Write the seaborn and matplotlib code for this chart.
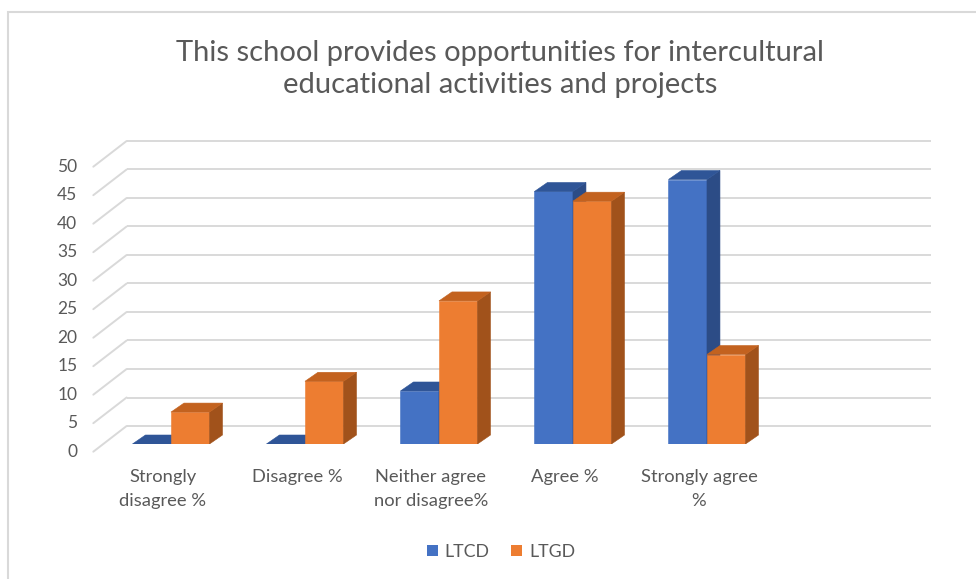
import matplotlib
matplotlib.use("Agg")
import matplotlib.pyplot as plt
from matplotlib.patches import Polygon, Rectangle, Patch
import pandas as pd
import seaborn as sns

# ---- data ----
categories = ["Strongly\ndisagree %", "Disagree %", "Neither agree\nnor disagree%",
              "Agree %", "Strongly agree\n%"]
series = ["LTCD", "LTGD"]
ltcd = [0.0, 0.0, 9.3, 44.3, 46.4]
ltgd = [5.6, 11.0, 25.1, 42.6, 15.7]
y_ticks = [0, 5, 10, 15, 20, 25, 30, 35, 40, 45, 50]
title = "This school provides opportunities for intercultural\neducational activities and projects"

# ---- style ----
FONT = ["Lato", "DejaVu Sans"]
TEXT = "#595959"
GRID = "#D9D9D9"
FRONT = {"LTCD": "#4472C4", "LTGD": "#ED7D31"}
TOP = {"LTCD": "#2F5597", "LTGD": "#C3621F"}
SIDE = {"LTCD": "#2C4C86", "LTGD": "#A1521B"}

sns.set_theme(style="white")
plt.rcParams["font.family"] = FONT

W, H, DPI = 976, 579, 100
fig = plt.figure(figsize=(W / DPI, H / DPI), dpi=DPI)
fig.patch.set_facecolor("white")

# chart-area border
fig.add_artist(Rectangle((8 / W, -0.1), 1.2, 1 - 12 / H + 0.1, transform=fig.transFigure,
                         fill=False, edgecolor="#D9D9D9", linewidth=1.5))

# plot plane (where the bar fronts stand)
left_px, right_px = 103.3, 907.7
zero_px, px_per_unit = 444.0, 5.7
ymax = 52
top_px = zero_px - px_per_unit * ymax
ax = fig.add_axes([left_px / W, 1 - zero_px / H, (right_px - left_px) / W,
                   (zero_px - top_px) / H])

df = pd.DataFrame({
    "category": categories * 2,
    "series": [series[0]] * len(categories) + [series[1]] * len(categories),
    "value": ltcd + ltgd,
})
sns.barplot(data=df, x="category", y="value", hue="series", hue_order=series,
            palette=[FRONT[s] for s in series], saturation=1, width=0.575,
            linewidth=0, legend=False, ax=ax)

ax.set_xlim(-0.505, 5.498)
ax.set_ylim(0, ymax)
ax.set_axis_off()

# pixel -> data conversions
ppx = (right_px - left_px) / (5.498 + 0.505)
ppy = px_per_unit
x_left = -0.505

# back-wall gridlines with their slanted floor-side connectors
back_dx, back_dy = 23.3, 18.0
front_dx, front_dy = -10.0, -7.7
for v in y_ticks:
    ax.plot([x_left + back_dx / ppx, 5.498 + back_dx / ppx],
            [v + back_dy / ppy, v + back_dy / ppy],
            color=GRID, lw=1.4, zorder=0, clip_on=False, solid_capstyle="butt")
    ax.plot([x_left + front_dx / ppx, x_left + back_dx / ppx],
            [v + front_dy / ppy, v + back_dy / ppy],
            color=GRID, lw=1.4, zorder=0, clip_on=False)
    ax.text(x_left + (front_dx - 16) / ppx, v + front_dy / ppy, str(v),
            ha="right", va="center", fontsize=12.5, color=TEXT)

# 3-D tops and sides of the bars
ddx, ddy = 13 / ppx, 9 / ppy
for k, (name, container) in enumerate(zip(series, ax.containers)):
    for bar in container:
        x0, w, h = bar.get_x(), bar.get_width(), bar.get_height()
        x1 = x0 + w
        z = 3 + 2 * k
        bar.set_zorder(z)
        bar.set_edgecolor(FRONT[name])
        bar.set_linewidth(0.4)
        top = Polygon([(x0, h), (x1, h), (x1 + ddx, h + ddy), (x0 + ddx, h + ddy)],
                      closed=True, facecolor=TOP[name], edgecolor=TOP[name],
                      linewidth=0.4, zorder=z + 0.5)
        side = Polygon([(x1, 0), (x1, h), (x1 + ddx, h + ddy), (x1 + ddx, ddy)],
                       closed=True, facecolor=SIDE[name], edgecolor=SIDE[name],
                       linewidth=0.4, zorder=z + 0.4)
        ax.add_patch(side)
        ax.add_patch(top)

# category labels
for i, cat in enumerate(categories):
    ax.text(i - 8 / ppx, -(469 - zero_px) / ppy, cat, ha="center", va="top",
            fontsize=13.2, color=TEXT, linespacing=1.6, multialignment="center")

# title
fig.text(500 / W, 1 - 69 / H, title, ha="center", va="center", fontsize=21,
         color=TEXT, linespacing=1.33)

# legend
handles = [Patch(facecolor=FRONT[s], edgecolor="none", label=s) for s in series]
fig.legend(handles=handles, loc="center", bbox_to_anchor=(501 / W, 1 - 552 / H),
           ncol=2, frameon=False, fontsize=12.8, handlelength=0.6, handleheight=0.6,
           handletextpad=0.4, columnspacing=1.2, labelcolor=TEXT)

fig.savefig("out.png", dpi=DPI, facecolor="white")
